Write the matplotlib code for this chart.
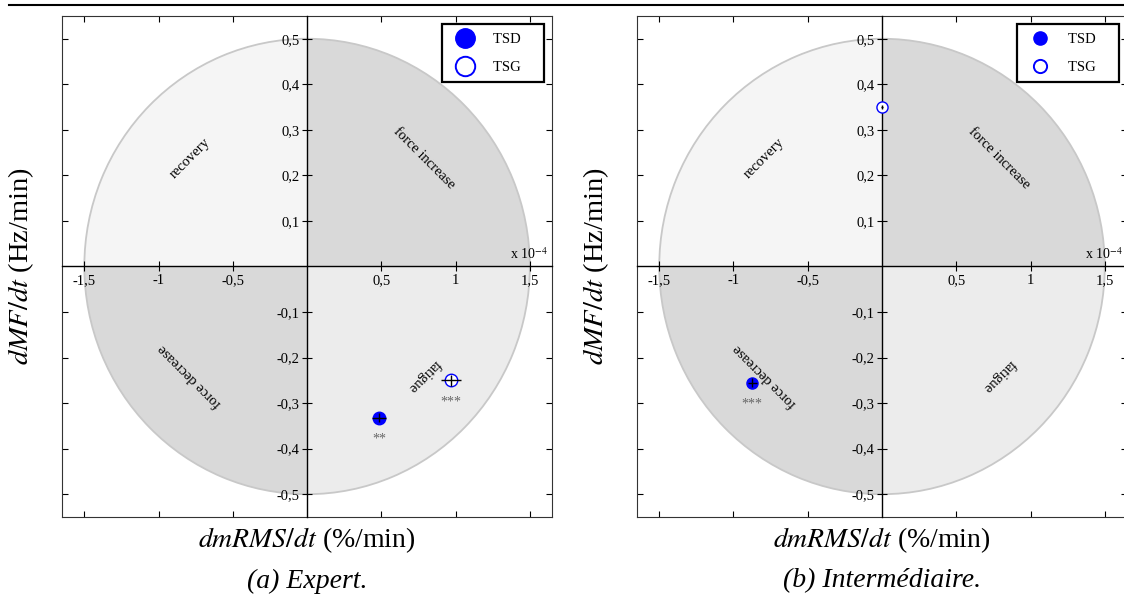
import numpy as np
import matplotlib
matplotlib.use('Agg')
import matplotlib.pyplot as plt
from matplotlib.patches import Wedge
from matplotlib.lines import Line2D
from matplotlib.transforms import Affine2D
from matplotlib.ticker import FuncFormatter

plt.rcParams['font.family'] = ['Liberation Serif', 'DejaVu Serif']
plt.rcParams['mathtext.fontset'] = 'stix'

# ---- data ----
quadrant_names = ['force increase', 'recovery', 'force decrease', 'fatigue']
quadrant_colors = ['#d9d9d9', '#f5f5f5', '#d9d9d9', '#ececec']
xticks = [-1.5, -1, -0.5, 0.5, 1, 1.5]
yticks = [-0.5, -0.4, -0.3, -0.2, -0.1, 0.1, 0.2, 0.3, 0.4, 0.5]

# panel (a) Expert
a_tsd_x, a_tsd_y = 0.484, -0.332
a_tsd_xerr, a_tsd_yerr = 0.045, 0.01
a_tsd_sig = '**'
a_tsg_x, a_tsg_y = 0.968, -0.25
a_tsg_xerr, a_tsg_yerr = 0.066, 0.012
a_tsg_sig = '***'

# panel (b) Intermediaire
b_tsd_x, b_tsd_y = -0.874, -0.255
b_tsd_xerr, b_tsd_yerr = 0.03, 0.01
b_tsd_sig = '***'
b_tsg_x, b_tsg_y = 0.0, 0.35
b_tsg_xerr, b_tsg_yerr = 0.01, 0.005
b_tsg_sig = ''

captions = ['(a) Expert.', '(b) Intermédiaire.']


def comma(v, pos):
    return ('%g' % v).replace('.', ',')


def draw_panel(fig, rect, points, caption, marker_size, legend_size):
    # outer box with inward ticks
    box = fig.add_axes(rect)
    box.set_xlim(-1.65, 1.65)
    box.set_ylim(-0.55, 0.55)
    box.set_xticks(xticks)
    box.set_yticks(yticks)
    box.tick_params(direction='in', length=4, width=0.8, top=True, right=True,
                    labelbottom=False, labelleft=False)
    for s in box.spines.values():
        s.set_linewidth(0.8)
        s.set_color('#333333')

    # quadrants of the ellipse
    tr = Affine2D().scale(1.5, 0.5) + box.transData
    for i, (name, col) in enumerate(zip(quadrant_names, quadrant_colors)):
        w = Wedge((0, 0), 1, 90 * i, 90 * (i + 1), facecolor=col, edgecolor='none',
                  transform=tr, zorder=1)
        box.add_patch(w)
    outline = Wedge((0, 0), 1, 0, 360, facecolor='none', edgecolor='#c8c8c8',
                    lw=1.3, transform=tr, zorder=2)
    box.add_patch(outline)

    box.text(0.79, 0.237, 'force increase', rotation=-45, ha='center', va='center', fontsize=10.5)
    box.text(-0.79, 0.237, 'recovery', rotation=45, ha='center', va='center', fontsize=10.5)
    box.text(-0.79, -0.24, 'force decrease', rotation=135, ha='center', va='center', fontsize=10.5)
    box.text(0.79, -0.24, 'fatigue', rotation=225, ha='center', va='center', fontsize=10.5)

    # central axes
    ax = fig.add_axes(rect, sharex=box, sharey=box)
    ax.patch.set_visible(False)
    ax.spines['left'].set_position(('data', 0))
    ax.spines['bottom'].set_position(('data', 0))
    ax.spines['top'].set_visible(False)
    ax.spines['right'].set_visible(False)
    for k in ['left', 'bottom']:
        ax.spines[k].set_linewidth(1.0)
        ax.spines[k].set_zorder(3)
    ax.xaxis.set_major_formatter(FuncFormatter(comma))
    ax.yaxis.set_major_formatter(FuncFormatter(comma))
    ax.tick_params(direction='inout', length=7, width=0.8, labelsize=10.5, pad=2)
    ax.text(1.62, 0.01, r'x 10$^{-4}$', ha='right', va='bottom', fontsize=10)

    (tsd_x, tsd_y, tsd_xe, tsd_ye, tsd_s), (tsg_x, tsg_y, tsg_xe, tsg_ye, tsg_s) = points
    ax.plot(tsd_x, tsd_y, 'o', color='blue', ms=marker_size, zorder=4)
    ax.plot(tsg_x, tsg_y, 'o', mfc='white', mec='blue', mew=1.0, ms=marker_size, zorder=4)
    ax.errorbar([tsd_x, tsg_x], [tsd_y, tsg_y], xerr=[tsd_xe, tsg_xe], yerr=[tsd_ye, tsg_ye],
                fmt='none', ecolor='black', elinewidth=1.0, capsize=0, zorder=5)
    ax.text(tsd_x, tsd_y - 0.033, tsd_s, ha='center', va='top', color='#666666', fontsize=10)
    ax.text(tsg_x, tsg_y - 0.033, tsg_s, ha='center', va='top', color='#666666', fontsize=10)

    handles = [Line2D([], [], ls='none', marker='o', color='blue', ms=legend_size),
               Line2D([], [], ls='none', marker='o', mfc='white', mec='blue', mew=1.4,
                      ms=legend_size)]
    leg = ax.legend(handles, ['TSD    ', 'TSG    '], loc='upper right', fontsize=10.5,
                    fancybox=False, framealpha=1, edgecolor='black', handlelength=2.0,
                    handletextpad=0.9, borderpad=0.6, labelspacing=1.0,
                    borderaxespad=0.55)
    leg.get_frame().set_linewidth(1.6)

    cx = rect[0] + rect[2] / 2
    fig.text(rect[0] - 0.036, rect[1] + rect[3] / 2, r'$dMF/dt$ (Hz/min)', rotation=90,
             ha='center', va='center', fontsize=20.5)
    fig.text(cx, 0.093, r'$dmRMS/dt$ (%/min)', ha='center', va='center', fontsize=20)
    fig.text(cx, 0.025, caption, ha='center', va='center', fontsize=20, style='italic')


fig = plt.figure(figsize=(11.24, 5.96), dpi=100)
fig.add_artist(Line2D([0.008, 1.0], [0.9916, 0.9916], color='black', lw=1.5))

draw_panel(fig, [0.0552, 0.1326, 0.436, 0.8406],
           [(a_tsd_x, a_tsd_y, a_tsd_xerr, a_tsd_yerr, a_tsd_sig),
            (a_tsg_x, a_tsg_y, a_tsg_xerr, a_tsg_yerr, a_tsg_sig)],
           captions[0], 9, 14)
draw_panel(fig, [0.5667, 0.1326, 0.436, 0.8406],
           [(b_tsd_x, b_tsd_y, b_tsd_xerr, b_tsd_yerr, b_tsd_sig),
            (b_tsg_x, b_tsg_y, b_tsg_xerr, b_tsg_yerr, b_tsg_sig)],
           captions[1], 8, 9.5)

fig.savefig('out.png', dpi=100)
